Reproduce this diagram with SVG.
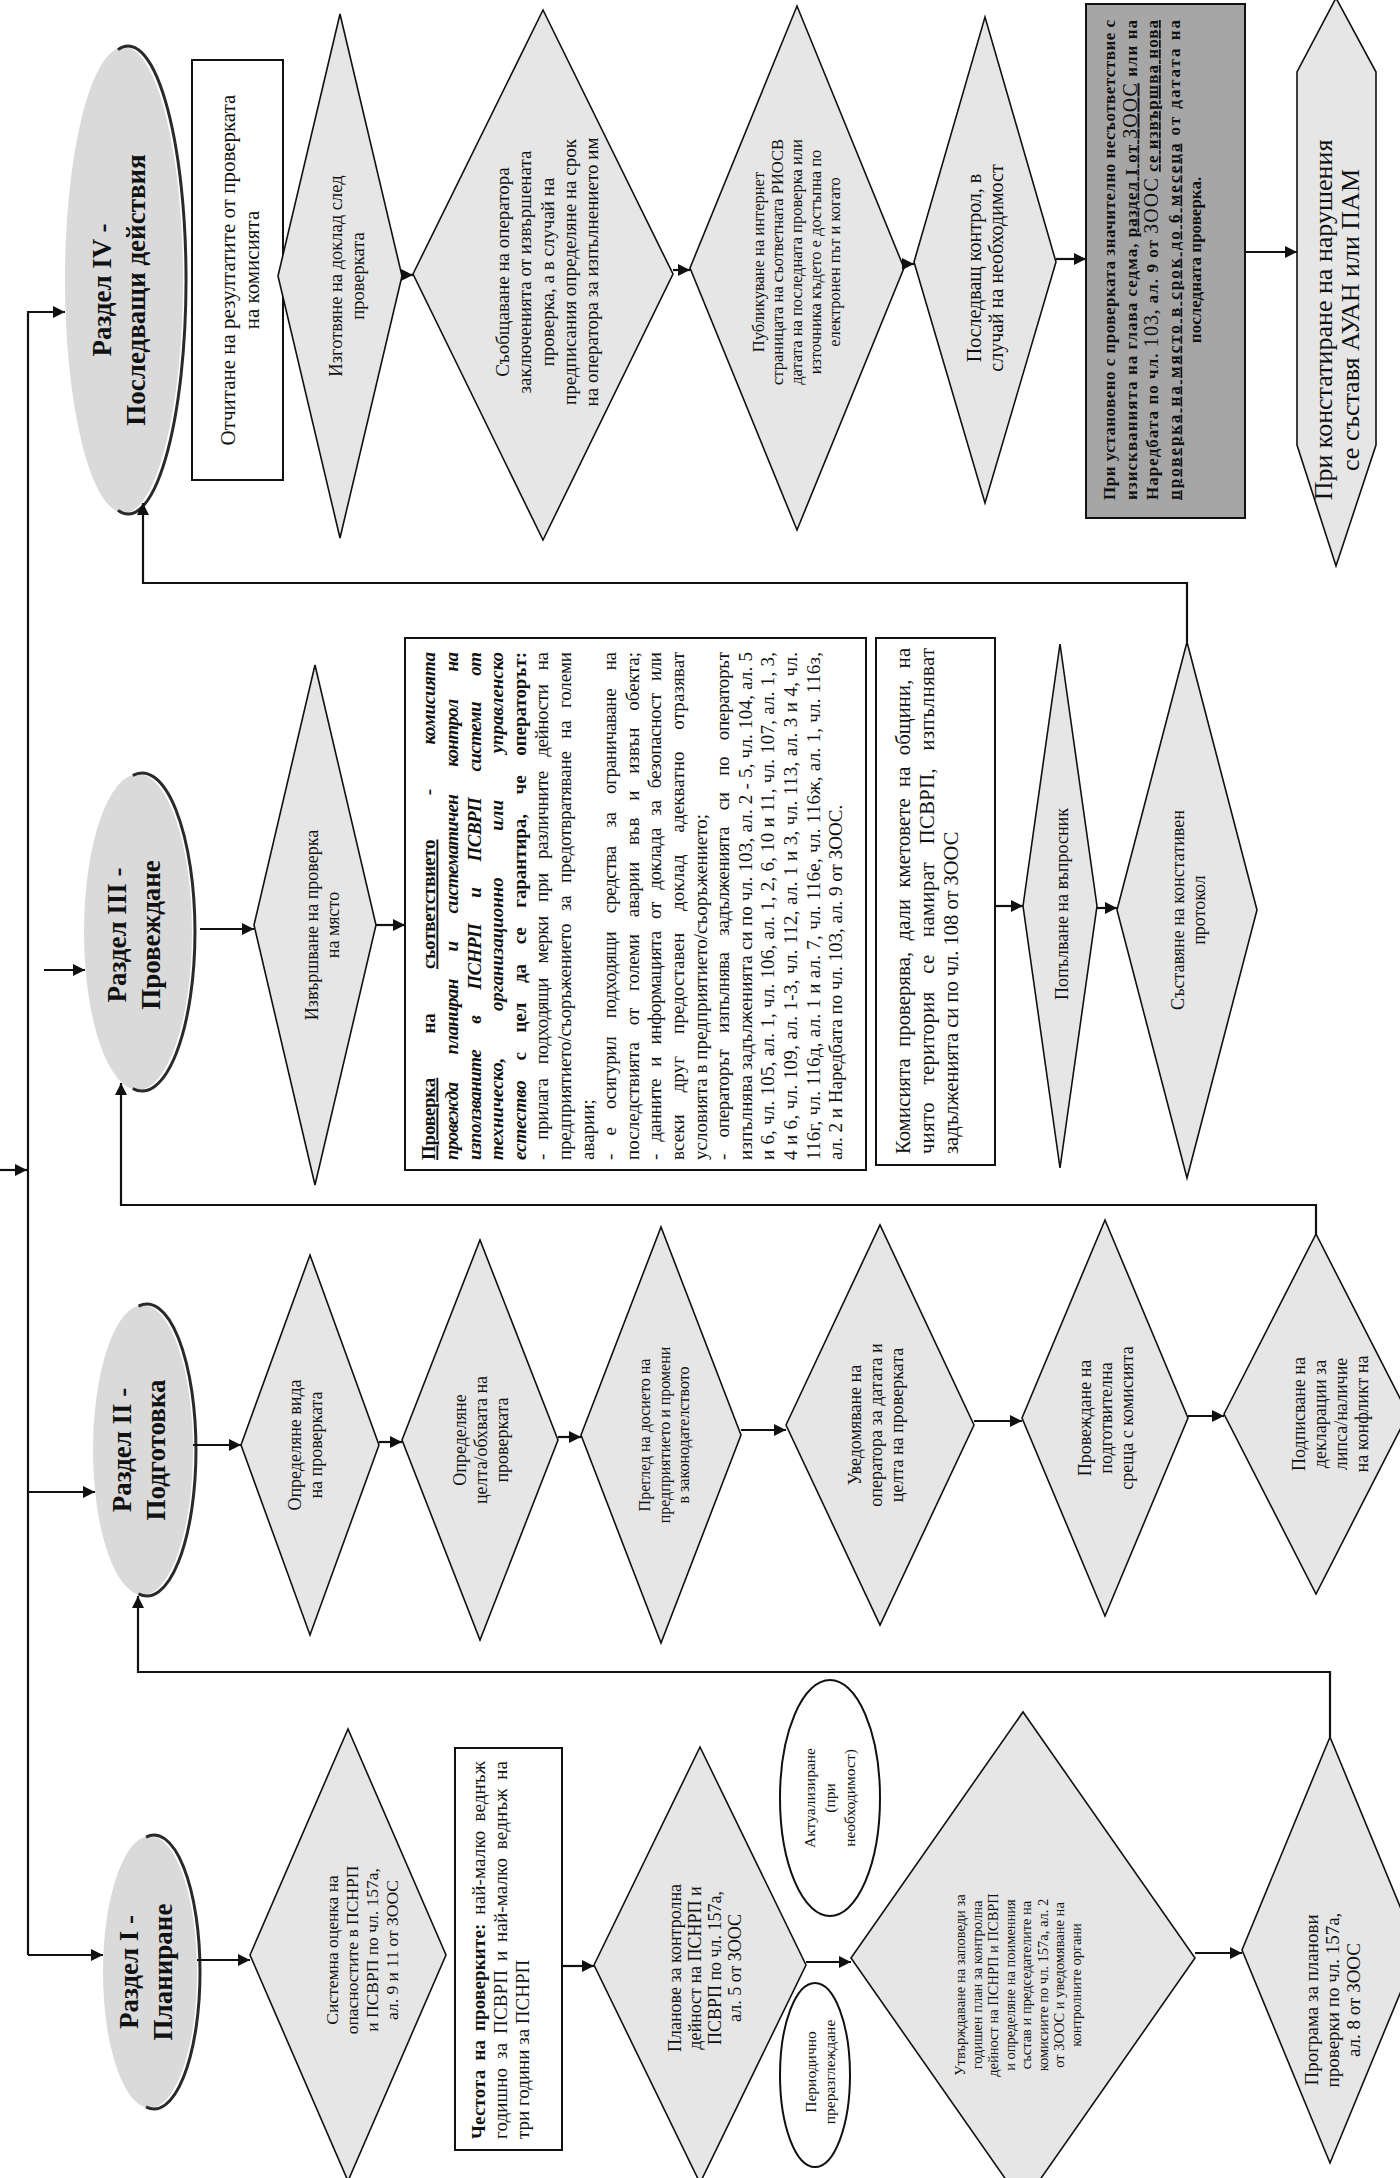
<svg xmlns="http://www.w3.org/2000/svg" width="1400" height="2178" viewBox="0 0 1400 2178">
<defs>
<marker id="ah" viewBox="0 0 10 10" refX="10" refY="5" markerWidth="13" markerHeight="12" markerUnits="userSpaceOnUse" orient="auto"><path d="M0,0 L10,5 L0,10 z" fill="#111"/></marker>
<style>
text{font-family:"Liberation Serif","DejaVu Serif",serif;fill:#111}
.m{text-anchor:middle}
.b{font-weight:bold}
.i{font-style:italic}
.u{text-decoration:underline}
.big{font-size:20px;font-weight:normal}
.d{fill:#e6e6e6;stroke:#111;stroke-width:1.6}
.r{fill:#fff;stroke:#111;stroke-width:2}
.g{fill:#a6a6a6;stroke:#111;stroke-width:2}
.te{fill:#dadada}
.arc{fill:none;stroke:#2a2a2a;stroke-width:3}
.o{fill:#fff;stroke:#111;stroke-width:2}
.c{fill:none;stroke:#111;stroke-width:2.2;marker-end:url(#ah)}
</style>
</defs>
<rect width="1400" height="2178" fill="#fff"/>

<!-- Section IV -->
<g id="e4">
<ellipse class="te" cx="124" cy="280" rx="59" ry="233"/>
<path class="arc" d="M117.9 49.6 A58 234 0 1 1 117.9 510.4"/>
<text class="m b" font-size="27" transform="translate(118 290) rotate(-90)"><tspan x="0" y="-7.5">Раздел IV -</tspan><tspan x="0" y="26.5">Последващи действия</tspan></text>
</g>
<g id="r4">
<rect class="r" x="192" y="60" width="91" height="420"/>
<text class="m" font-size="21" transform="translate(240 270) rotate(-90)"><tspan x="0" y="-4.6">Отчитане на резултатите от проверката</tspan><tspan x="0" y="19.4">на комисията</tspan></text>
</g>
<g id="d4a">
<polygon class="d" points="278,276 340,14 402,276 340,538"/>
<text class="m" font-size="18.5" transform="translate(346 276) rotate(-90)"><tspan x="0" y="-4.5">Изготвяне на доклад след</tspan><tspan x="0" y="17.5">проверката</tspan></text>
</g>
<g id="d4b">
<polygon class="d" points="413,274 543,10 673,274 543,540"/>
<text class="m" font-size="19" transform="translate(547 272) rotate(-90)"><tspan x="0" y="-38.15">Съобщаване на оператора</tspan><tspan x="0" y="-15.75">заключенията от извършената</tspan><tspan x="0" y="6.65">проверка, а в случай на</tspan><tspan x="0" y="29.05">предписания определяне на срок</tspan><tspan x="0" y="51.45">на оператора за изпълнението им</tspan></text>
</g>
<g id="d4c">
<polygon class="d" points="690,268 797,6 904,268 797,530"/>
<text class="m" font-size="16.5" transform="translate(796 262) rotate(-90)"><tspan x="0" y="-32.2">Публикуване на интернет</tspan><tspan x="0" y="-13.2">страницата на съответната РИОСВ</tspan><tspan x="0" y="5.8">датата на последната проверка или</tspan><tspan x="0" y="24.8">източника където е достъпна по</tspan><tspan x="0" y="43.8">електронен път и когато</tspan></text>
</g>
<g id="d4d">
<polygon class="d" points="914,262 985,17 1056,262 985,503"/>
<text class="m" font-size="20" transform="translate(985 268) rotate(-90)"><tspan x="0" y="-4">Последващ контрол, в</tspan><tspan x="0" y="18">случай на необходимост</tspan></text>
</g>
<g id="g4">
<rect class="g" x="1086" y="4" width="159" height="514"/>
<g class="b" font-size="17" transform="translate(1152 260) rotate(-90)">
<text x="-240" y="-37" textLength="480" lengthAdjust="spacing">При установено с проверката значително несъответствие с</text>
<text x="-240" y="-15.5" textLength="480" lengthAdjust="spacing">изискванията на глава седма, <tspan class="u">раздел I от <tspan class="big">ЗООС</tspan></tspan> или на</text>
<text x="-240" y="6" textLength="480" lengthAdjust="spacing">Наредбата по чл. <tspan class="big">103</tspan>, ал. 9 от <tspan class="big">ЗООС</tspan> <tspan class="u">се извършва нова</tspan></text>
<text x="-240" y="27.5" textLength="480" lengthAdjust="spacing"><tspan class="u">проверка на място в срок до 6 месеца</tspan> от датата на</text>
<text class="m" x="0" y="49">последната проверка.</text>
</g>
</g>
<g id="h4">
<polygon class="d" points="1336,-2 1376,72 1376,445 1336,566 1297,445 1297,72"/>
<text class="m" font-size="26" transform="translate(1336 320) rotate(-90)"><tspan x="0" y="-4.4">При констатиране на нарушения</tspan><tspan x="0" y="22.6">се съставя АУАН или ПАМ</tspan></text>
</g>

<!-- Section III -->
<g id="e3">
<ellipse class="te" cx="138" cy="932" rx="54" ry="158"/>
<path class="arc" d="M132.8 775.4 A53 159 0 1 1 132.8 1088.6"/>
<text class="m b" font-size="27" transform="translate(133 935) rotate(-90)"><tspan x="0" y="-7.5">Раздел III -</tspan><tspan x="0" y="26.5">Провеждане</tspan></text>
</g>
<g id="d3a">
<polygon class="d" points="254,925 315,665 376,925 315,1185"/>
<text class="m" font-size="18" transform="translate(322 925) rotate(-90)"><tspan x="0" y="-4.2">Извършване на проверка</tspan><tspan x="0" y="16.8">на място</tspan></text>
</g>
<g id="b3">
<rect class="r" x="405" y="638" width="461" height="532"/>
<g font-size="19" transform="translate(633 906) rotate(-90)">
<text class="b" x="-254" y="-197.6" textLength="508" lengthAdjust="spacing" style="word-spacing:40px"><tspan class="u">Проверка</tspan> на <tspan class="u">съответствието</tspan> - <tspan class="i">комисията</tspan></text>
<text class="b i" x="-254" y="-175" textLength="508" lengthAdjust="spacing" style="word-spacing:24px">провежда планиран и систематичен контрол на</text>
<text class="b i" x="-254" y="-152.4" textLength="508" lengthAdjust="spacing" style="word-spacing:22px">използваните в ПСНРП и ПСВРП системи от</text>
<text class="b i" x="-254" y="-129.8" textLength="508" lengthAdjust="spacing" style="word-spacing:42px">техническо, организационно или управленско</text>
<text class="b" x="-254" y="-107.2" textLength="508" lengthAdjust="spacing" style="word-spacing:15px"><tspan class="i">естество</tspan> с цел да се гарантира, че операторът:</text>
<text x="-254" y="-84.6" textLength="508" lengthAdjust="spacing" style="word-spacing:10px">- прилага подходящи мерки при различните дейности на</text>
<text x="-254" y="-62" textLength="508" lengthAdjust="spacing" style="word-spacing:8px">предприятието/съоръжението за предотвратяване на големи</text>
<text x="-254" y="-39.4">аварии;</text>
<text x="-254" y="-16.8" textLength="508" lengthAdjust="spacing" style="word-spacing:14px">- е осигурил подходящи средства за ограничаване на</text>
<text x="-254" y="5.8" textLength="508" lengthAdjust="spacing" style="word-spacing:12px">последствията от големи аварии във и извън обекта;</text>
<text x="-254" y="28.4" textLength="508" lengthAdjust="spacing" style="word-spacing:8px">- данните и информацията от доклада за безопасност или</text>
<text x="-254" y="51" textLength="508" lengthAdjust="spacing" style="word-spacing:17px">всеки друг предоставен доклад адекватно отразяват</text>
<text x="-254" y="73.6">условията в предприятието/съоръжението;</text>
<text x="-254" y="96.2" textLength="508" lengthAdjust="spacing" style="word-spacing:12px">- операторът изпълнява задълженията си по операторът</text>
<text x="-254" y="118.8" textLength="508" lengthAdjust="spacing">изпълнява задълженията си по чл. 103, ал. 2 - 5, чл. 104, ал. 5</text>
<text x="-254" y="141.4" textLength="508" lengthAdjust="spacing">и 6, чл. 105, ал. 1, чл. 106, ал. 1, 2, 6, 10 и 11, чл. 107, ал. 1, 3,</text>
<text x="-254" y="164" textLength="508" lengthAdjust="spacing">4 и 6, чл. 109, ал. 1-3, чл. 112, ал. 1 и 3, чл. 113, ал. 3 и 4, чл.</text>
<text x="-254" y="186.6" textLength="508" lengthAdjust="spacing">116г, чл. 116д, ал. 1 и ал. 7, чл. 116е, чл. 116ж, ал. 1, чл. 116з,</text>
<text x="-254" y="209.2">ал. 2 и Наредбата по чл. 103, ал. 9 от ЗООС.</text>
</g>
</g>
<g id="b3b">
<rect class="r" x="876" y="638" width="119" height="527"/>
<g font-size="20.5" transform="translate(927 901) rotate(-90)">
<text x="-253" y="-17" textLength="506" lengthAdjust="spacing" style="word-spacing:6px">Комисията проверява, дали кметовете на общини, на</text>
<text x="-253" y="7" textLength="506" lengthAdjust="spacing" style="word-spacing:12px">чиято територия се намират ПСВРП, изпълняват</text>
<text x="-253" y="31">задълженията си по чл. 108 от ЗООС</text>
</g>
</g>
<g id="d3b">
<polygon class="d" points="1023,906 1060,644 1097,906 1060,1168"/>
<text class="m" font-size="18" transform="translate(1062 904) rotate(-90)"><tspan x="0" y="6.3">Попълване на въпросник</tspan></text>
</g>
<g id="d3c">
<polygon class="d" points="1117,910 1187,642 1257,910 1187,1178"/>
<text class="m" font-size="18" transform="translate(1188 910) rotate(-90)"><tspan x="0" y="-4.2">Съставяне на констативен</tspan><tspan x="0" y="16.8">протокол</tspan></text>
</g>

<!-- Section II -->
<g id="e2">
<ellipse class="te" cx="143" cy="1450" rx="50" ry="145"/>
<path class="arc" d="M138.5 1306.2 A49 146 0 1 1 138.5 1593.8"/>
<text class="m b" font-size="27" transform="translate(138 1450) rotate(-90)"><tspan x="0" y="-7.5">Раздел II -</tspan><tspan x="0" y="26.5">Подготовка</tspan></text>
</g>
<g id="d2a">
<polygon class="d" points="241,1445 310,1255 379,1445 310,1635"/>
<text class="m" font-size="18" transform="translate(305 1445) rotate(-90)"><tspan x="0" y="-4.2">Определяне вида</tspan><tspan x="0" y="16.8">на проверката</tspan></text>
</g>
<g id="d2b">
<polygon class="d" points="402,1440 480,1240 558,1440 480,1640"/>
<text class="m" font-size="18" transform="translate(481 1440) rotate(-90)"><tspan x="0" y="-14.7">Определяне</tspan><tspan x="0" y="6.3">целта/обхвата на</tspan><tspan x="0" y="27.3">проверката</tspan></text>
</g>
<g id="d2c">
<polygon class="d" points="581,1435 661,1227 741,1435 661,1643"/>
<text class="m" font-size="16" transform="translate(664 1435) rotate(-90)"><tspan x="0" y="-13.9">Преглед на досието на</tspan><tspan x="0" y="5.6">предприятието и промени</tspan><tspan x="0" y="25.1">в законодателството</tspan></text>
</g>
<g id="d2d">
<polygon class="d" points="786,1425 880,1225 974,1425 880,1625"/>
<text class="m" font-size="18" transform="translate(876 1425) rotate(-90)"><tspan x="0" y="-14.7">Уведомяване на</tspan><tspan x="0" y="6.3">оператора за датата и</tspan><tspan x="0" y="27.3">целта на проверката</tspan></text>
</g>
<g id="d2e">
<polygon class="d" points="1022,1418 1105,1220 1188,1418 1105,1616"/>
<text class="m" font-size="18" transform="translate(1106 1418) rotate(-90)"><tspan x="0" y="-14.7">Провеждане на</tspan><tspan x="0" y="6.3">подготвителна</tspan><tspan x="0" y="27.3">среща с комисията</tspan></text>
</g>
<g id="d2f">
<polygon class="d" points="1224,1414 1316,1234 1408,1414 1316,1594"/>
<text class="m" font-size="18" transform="translate(1330 1414) rotate(-90)"><tspan x="0" y="-25.2">Подписване на</tspan><tspan x="0" y="-4.2">декларации за</tspan><tspan x="0" y="16.8">липса/наличие</tspan><tspan x="0" y="37.8">на конфликт на</tspan></text>
</g>

<!-- Section I -->
<g id="e1">
<ellipse class="te" cx="150" cy="1972" rx="47" ry="136"/>
<path class="arc" d="M146 1837.1 A46 137 0 1 1 146 2106.9"/>
<text class="m b" font-size="27" transform="translate(145 1972) rotate(-90)"><tspan x="0" y="-7.5">Раздел I -</tspan><tspan x="0" y="26.5">Планиране</tspan></text>
</g>
<g id="d1a">
<polygon class="d" points="250,1955 348,1729 446,1955 348,2181"/>
<text class="m" font-size="17.5" transform="translate(362 1950) rotate(-90)"><tspan x="0" y="-23.9">Системна оценка на</tspan><tspan x="0" y="-3.9">опасностите в ПСНРП</tspan><tspan x="0" y="16.1">и ПСВРП по чл. 157а,</tspan><tspan x="0" y="36.1">ал. 9 и 11 от ЗООС</tspan></text>
</g>
<g id="r1">
<rect class="r" x="455" y="1748" width="107" height="402"/>
<g font-size="19" transform="translate(500 1950) rotate(-90)">
<text x="-189" y="-15.35" textLength="378" lengthAdjust="spacing" style="word-spacing:4px"><tspan class="b">Честота на проверките:</tspan> най-малко веднъж</text>
<text x="-189" y="6.65" textLength="378" lengthAdjust="spacing" style="word-spacing:4px">годишно за ПСВРП и най-малко веднъж на</text>
<text x="-189" y="28.65">три години за ПСНРП</text>
</g>
</g>
<g id="d1b">
<polygon class="d" points="594,1965 700,1747 806,1965 700,2183"/>
<text class="m" font-size="18" transform="translate(705 1968) rotate(-90)"><tspan x="0" y="-23.7">Планове за контролна</tspan><tspan x="0" y="-3.7">дейност на ПСНРП и</tspan><tspan x="0" y="16.3">ПСВРП по чл. 157а,</tspan><tspan x="0" y="36.3">ал. 5 от ЗООС</tspan></text>
</g>
<g id="p1">
<ellipse class="o" cx="815" cy="2075" rx="35" ry="92"/>
<text class="m" font-size="15.5" transform="translate(820 2072) rotate(-90)"><tspan x="0" y="-4.1">Периодично</tspan><tspan x="0" y="14.9">преразглеждане</tspan></text>
</g>
<g id="a1">
<ellipse class="o" cx="830" cy="1798" rx="50" ry="118"/>
<text class="m" font-size="15.5" transform="translate(830 1798) rotate(-90)"><tspan x="0" y="-14.6">Актуализиране</tspan><tspan x="0" y="5.4">(при</tspan><tspan x="0" y="25.4">необходимост)</tspan></text>
</g>
<g id="d1c">
<polygon class="d" points="851,1958 1023,1712 1195,1958 1023,2204"/>
<text class="m" font-size="14.5" transform="translate(1018 1985) rotate(-90)"><tspan x="0" y="-52.65">Утвърждаване на заповеди за</tspan><tspan x="0" y="-36.15">годишен план за контролна</tspan><tspan x="0" y="-19.65">дейност на ПСНРП и ПСВРП</tspan><tspan x="0" y="-3.15">и определяне на поименния</tspan><tspan x="0" y="13.35">състав и председателите на</tspan><tspan x="0" y="29.85">комисиите по чл. 157а, ал. 2</tspan><tspan x="0" y="46.35">от ЗООС и уведомяване на</tspan><tspan x="0" y="62.85">контролните органи</tspan></text>
</g>
<g id="d1d">
<polygon class="d" points="1242,1950 1330,1737 1418,1950 1330,2163"/>
<text class="m" font-size="19" transform="translate(1332 2000) rotate(-90)"><tspan x="0" y="-14.35">Програма за планови</tspan><tspan x="0" y="6.65">проверки по чл. 157а,</tspan><tspan x="0" y="27.65">ал. 8 от ЗООС</tspan></text>
</g>

<!-- Connectors -->
<g id="connectors">
<path class="c" d="M0 1170 H27"/>
<path class="c" d="M28 1955 V312 H65"/>
<path class="c" d="M28 1955 H103"/>
<path class="c" d="M28 1492 H95"/>
<path class="c" d="M44 970 H85"/>
<path class="c" d="M402 275 H413"/>
<path class="c" d="M673 270 H690"/>
<path class="c" d="M904 264 H914"/>
<path class="c" d="M1056 259 H1086"/>
<path class="c" d="M1245 252 H1297"/>
<path class="c" d="M200 929 H254"/>
<path class="c" d="M376 925 H405"/>
<path class="c" d="M995 906 H1023"/>
<path class="c" d="M1097 908 H1117"/>
<path class="c" d="M193 1445 H241"/>
<path class="c" d="M379 1442 H402"/>
<path class="c" d="M558 1437 H581"/>
<path class="c" d="M741 1430 H786"/>
<path class="c" d="M974 1421 H1022"/>
<path class="c" d="M1188 1416 H1224"/>
<path class="c" d="M197 1960 H250"/>
<path class="c" d="M562 1966 H594"/>
<path class="c" d="M806 1962 H851"/>
<path class="c" d="M1195 1953 H1242"/>
<path class="c" d="M1330 1737 V1672 H138 V1596"/>
<path class="c" d="M1316 1234 V1205 H121 V1083"/>
<path class="c" d="M1187 642 V583 H143 V503"/>
</g>
</svg>
